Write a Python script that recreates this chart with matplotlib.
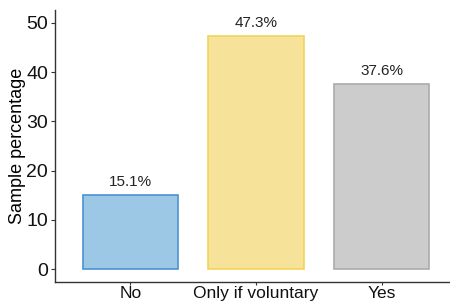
import numpy as np
import matplotlib.pyplot as plt

plt.rcParams['font.family'] = ['Liberation Sans', 'DejaVu Sans']

categories = ['No', 'Only if voluntary', 'Yes']
values = [15.1, 47.3, 37.6]
labels = ['15.1%', '47.3%', '37.6%']
fills = ['#9cc8e6', '#f7e299', '#cccccc']
edges = ['#4a94d4', '#f2d45a', '#ababab']

fig = plt.figure(figsize=(4.5, 3.04), dpi=100)
ax = fig.add_axes([55 / 450, 22 / 304, 402 / 450, 272 / 304])

x = np.arange(1, len(categories) + 1)
ax.bar(x, values, width=0.76, color=fills, edgecolor=edges, linewidth=1.2)

for xi, v, lab in zip(x, values, labels):
    ax.text(xi, v + 1.2, lab, ha='center', va='bottom', fontsize=11, color='#222222')

ax.set_xlim(0.4, 3.6)
ax.set_ylim(-2.6, 52.6)
ax.set_xticks(x)
ax.set_xticklabels(categories, fontsize=12.5, color='#111111')
ax.set_yticks([0, 10, 20, 30, 40, 50])
ax.tick_params(axis='y', labelsize=14, labelcolor='#111111', length=3, color='#333333', pad=2)
ax.tick_params(axis='x', length=2, color='#333333', pad=1)
ax.set_ylabel('Sample percentage', fontsize=13, labelpad=0)

for s in ['top', 'right']:
    ax.spines[s].set_visible(False)
for s in ['left', 'bottom']:
    ax.spines[s].set_color('#333333')
    ax.spines[s].set_linewidth(1)

fig.savefig('out.png', dpi=100)
